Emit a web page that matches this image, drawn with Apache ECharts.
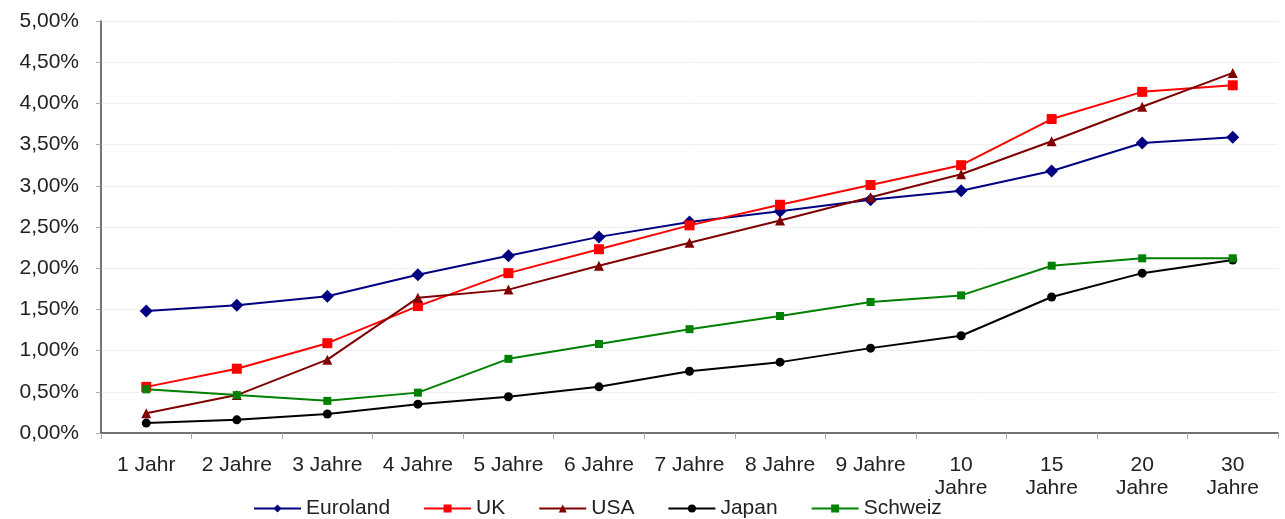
<!DOCTYPE html>
<html>
<head>
<meta charset="utf-8">
<script src="https://cdn.jsdelivr.net/npm/echarts@6/dist/echarts.min.js"></script>
<style>
html, body { margin: 0; padding: 0; background: #fff; }
#main { width: 1285px; height: 519px; }
</style>
</head>
<body>
<div id="main"></div>
<script>
var categories = ['1 Jahr', '2 Jahre', '3 Jahre', '4 Jahre', '5 Jahre', '6 Jahre', '7 Jahre',
    '8 Jahre', '9 Jahre', '10\nJahre', '15\nJahre', '20\nJahre', '30\nJahre'];
var euroland = [1.48, 1.55, 1.66, 1.92, 2.15, 2.38, 2.56, 2.69, 2.83, 2.94, 3.18, 3.52, 3.59];
var uk = [0.56, 0.78, 1.09, 1.54, 1.94, 2.23, 2.52, 2.77, 3.01, 3.25, 3.81, 4.14, 4.22];
var usa = [0.24, 0.46, 0.89, 1.64, 1.74, 2.03, 2.31, 2.58, 2.86, 3.14, 3.54, 3.96, 4.37];
var japan = [0.12, 0.16, 0.23, 0.35, 0.44, 0.56, 0.75, 0.86, 1.03, 1.18, 1.65, 1.94, 2.10];
var schweiz = [0.53, 0.46, 0.39, 0.49, 0.90, 1.08, 1.26, 1.42, 1.59, 1.67, 2.03, 2.12, 2.12];

var chart = echarts.init(document.getElementById('main'));

function line(name, data, color, symbol, size) {
    return {
        name: name,
        type: 'line',
        data: data,
        symbol: symbol,
        symbolSize: size,
        lineStyle: { color: color, width: 2 },
        itemStyle: { color: color },
        animation: false
    };
}

var option = {
    textStyle: { fontFamily: 'Liberation Sans' },
    grid: { left: 101, right: 7, top: 21, bottom: 86 },
    legend: {
        bottom: 0,
        left: 253,
        padding: 0,
        itemWidth: 47,
        itemHeight: 10,
        itemGap: 33,
        textStyle: { fontSize: 21, color: '#222' },
        data: ['Euroland', 'UK', 'USA', 'Japan', 'Schweiz']
    },
    xAxis: {
        type: 'category',
        data: categories,
        boundaryGap: true,
        axisLine: { lineStyle: { color: '#444', width: 1.5 } },
        axisTick: { show: true, length: 6, lineStyle: { color: '#aaa' } },
        axisLabel: { fontSize: 21, color: '#222', margin: 21, interval: 0, lineHeight: 23 }
    },
    yAxis: {
        type: 'value',
        min: 0,
        max: 5,
        interval: 0.5,
        axisLine: { show: true, lineStyle: { color: '#444', width: 1.5 } },
        axisTick: { show: true, length: 5, lineStyle: { color: '#aaa' } },
        splitLine: { lineStyle: { color: '#f0f0f0' } },
        axisLabel: {
            fontSize: 21,
            color: '#222',
            margin: 22,
            formatter: function (v) { return v.toFixed(2).replace('.', ',') + '%'; }
        }
    },
    series: [
        line('Euroland', euroland, '#000080', 'diamond', 13),
        line('UK', uk, '#ff0000', 'rect', 10),
        line('USA', usa, '#800000', 'triangle', 10),
        line('Japan', japan, '#000000', 'circle', 9),
        line('Schweiz', schweiz, '#008000', 'rect', 8)
    ]
};
chart.setOption(option);
</script>
</body>
</html>
